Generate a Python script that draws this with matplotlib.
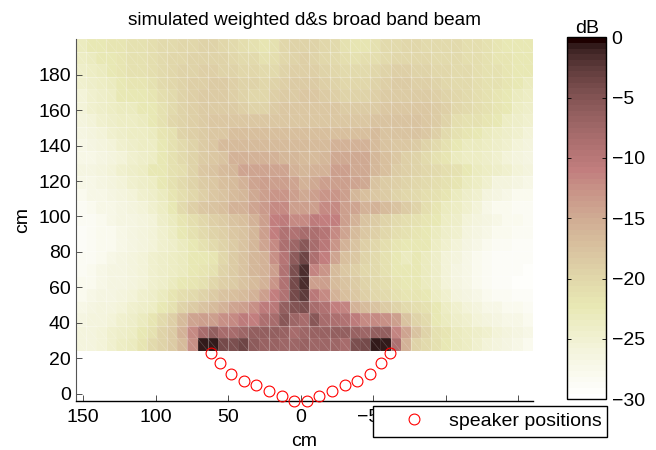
#!/usr/bin/env python
"""Simulated broad band beam map with speaker positions."""

import matplotlib

matplotlib.use("Agg")
import matplotlib.pyplot as plt
import numpy as np
from matplotlib.collections import LineCollection

plt.rcParams["font.family"] = ["Liberation Sans", "DejaVu Sans"]

# beam level in dB, top row first, columns run from +x (left) to -x (right)
db_rows = [
    [-23,-22.5,-22.5,-22,-22,-21.5,-21.5,-21,-20.5,-20.5,-20,-20,-19.5,-19.5,-20,-20.5,-21,-21.5,-22,-21.5,-20,-19.5,-19.5,-19.5,-20,-20.5,-21.5,-22,-22,-21.5,-20.5,-20.5,-20,-20,-20.5,-20.5,-20.5,-20.5,-21,-21,-21.5,-22,-22.5,-22.5,-22.5],
    [-23.5,-23,-22.5,-22.5,-22,-21.5,-21.5,-21,-20.5,-20,-20,-19.5,-19.5,-19.5,-19.5,-20,-20.5,-20.5,-21.5,-21,-20,-19.5,-19,-19.5,-20,-20.5,-21,-21.5,-21,-21,-20.5,-20,-20,-20,-20,-20.5,-20.5,-20.5,-21,-21,-21.5,-22,-22,-22.5,-22.5],
    [-24,-23.5,-23,-22.5,-22,-21.5,-21.5,-21,-20.5,-20,-19.5,-19.5,-19,-19,-19.5,-19.5,-20,-20,-20.5,-20.5,-19.5,-19,-19,-19,-19.5,-20,-20.5,-20.5,-20.5,-20,-19.5,-19,-19,-19.5,-19.5,-20,-20,-20.5,-20.5,-21,-21.5,-21.5,-22,-22.5,-22.5],
    [-24.5,-24,-23.5,-23,-22.5,-22,-22,-21.5,-20.5,-20,-19.5,-19,-19,-18.5,-18.5,-19,-19.5,-19.5,-20,-19.5,-19,-18.5,-18.5,-18.5,-19,-19.5,-20,-20,-20,-19.5,-19,-18.5,-18.5,-19,-19,-19.5,-20,-20.5,-20.5,-21,-21.5,-21.5,-22,-22.5,-23],
    [-25.5,-24.5,-24,-23.5,-22.5,-22.5,-22.5,-22,-21,-20.5,-19.5,-19,-18.5,-18.5,-18.5,-19,-19.5,-20,-20,-19,-18.5,-18.5,-18,-18,-18.5,-19,-19.5,-19.5,-19.5,-19,-18.5,-18.5,-18.5,-18.5,-18.5,-19,-19.5,-20,-20.5,-21,-21.5,-22,-22.5,-23,-23.5],
    [-25.5,-24.5,-24,-23.5,-23,-23,-22.5,-22.5,-21.5,-20.5,-19.5,-19,-18.5,-18.5,-18.5,-18.5,-19,-19.5,-19.5,-18.5,-18,-18,-18,-18,-18,-18,-18.5,-18.5,-18.5,-18.5,-18,-18,-18,-18,-18,-18.5,-19,-20,-20.5,-21,-21.5,-22,-22.5,-23.5,-24],
    [-26,-25.5,-24.5,-24,-23.5,-23.5,-23,-22.5,-21.5,-20,-19.5,-19,-18.5,-18,-18,-18,-18,-18,-18,-18,-18,-18,-18,-18,-18,-18,-18,-18,-18,-17.5,-17.5,-17.5,-17.5,-17.5,-18,-18.5,-19.5,-21,-21.5,-21.5,-22,-22.5,-23.5,-24,-24.5],
    [-26.5,-26,-25.5,-24.5,-24,-23.5,-23.5,-23,-22,-21.5,-19.5,-19,-18.5,-18,-18,-17,-17,-17,-17,-17,-17,-17,-17,-17,-17,-17,-17,-17,-17,-16.5,-17.5,-17.5,-17.5,-17.5,-18,-19,-20.5,-21.5,-22,-22.5,-23,-23.5,-24,-24.5,-25.5],
    [-27,-26.5,-26,-25.5,-24.5,-24,-23.5,-23.5,-22.5,-21.5,-20.5,-19.5,-18.5,-18,-16.5,-16.5,-16.5,-16.5,-16.5,-16.5,-16.5,-16.5,-16.5,-16.5,-16.5,-15.5,-15.5,-15.5,-15.5,-16.5,-17.5,-18,-18,-18.5,-19.5,-20.5,-21.5,-22.5,-23,-23,-23.5,-24,-24.5,-25.5,-26],
    [-27,-27,-26.5,-26,-25.5,-24.5,-24,-23.5,-22.5,-21.5,-20.5,-19.5,-18.5,-18,-17.5,-15.5,-15.5,-15.5,-15.5,-15.5,-16,-16,-16.5,-16.5,-16,-15,-15,-15,-15,-16,-17,-18,-19,-19.5,-20.5,-21.5,-22,-23,-23.5,-23.5,-24,-24.5,-25.5,-26,-26.5],
    [-26.5,-26.5,-26,-25.5,-24.5,-24,-23.5,-22.5,-22.5,-21.5,-21,-19.5,-18,-17.5,-16.5,-16,-14.5,-14.5,-14.5,-14.5,-14.5,-15.5,-16,-15.5,-15.5,-14,-14,-15,-15,-16,-17,-18.5,-19,-19.5,-20,-20.5,-21,-21.5,-22.5,-23,-23.5,-24,-24.5,-25.5,-26],
    [-27,-27,-26.5,-26,-25.5,-24.5,-24,-23.5,-22.5,-21.5,-20.5,-19.5,-18.5,-18,-17,-16.5,-15.5,-14.5,-14,-14,-14,-14.5,-15.5,-15,-14,-14,-14,-14.5,-15,-17.5,-18.5,-19,-19.5,-20,-20.5,-21,-21.5,-22,-23,-23.5,-24.5,-26,-26,-26.5,-27],
    [-28,-27,-27,-26.5,-26,-25.5,-24.5,-24,-23,-22,-21,-20,-19,-18,-17.5,-16.5,-16,-15,-14,-13,-13,-14,-15,-14,-13,-13,-14,-16,-17,-18,-18.5,-19.5,-20,-20.5,-21,-21.5,-22,-23,-24,-24.5,-26,-26.5,-27,-28,-28],
    [-28.5,-28,-27,-27,-26.5,-26,-25.5,-24.5,-23.5,-22.5,-20.5,-19,-18,-17.5,-17,-15.5,-15.5,-14.5,-13.5,-12,-12,-14,-14,-14,-12,-12,-14,-14.5,-15.5,-15.5,-16.5,-17.5,-18.5,-19.5,-21,-22,-23,-23.5,-24.5,-25.5,-27,-28,-28,-28.5,-28.5],
    [-28.5,-28.5,-28,-27,-26.5,-26.5,-26,-25.5,-24,-23,-22,-21,-20,-19,-18.5,-17.5,-17,-15.5,-14,-11,-10.5,-12,-12,-10.5,-11,-11,-14,-15.5,-17.5,-18.5,-19.5,-20.5,-21,-21.5,-22,-22.5,-23.5,-24,-25.5,-26,-26.5,-27,-28,-28,-28.5],
    [-29,-28.5,-28,-28,-27,-26.5,-26,-25.5,-24.5,-23.5,-22.5,-21.5,-20.5,-19.5,-19,-18,-17.5,-16,-14,-11,-9,-9,-8,-8.5,-9.5,-12,-14.5,-16.5,-18,-19,-20,-21,-21.5,-22,-22.5,-23,-24,-24.5,-26,-26.5,-27,-28,-28,-28.5,-28.5],
    [-29,-28.5,-28,-28,-27,-26.5,-26,-25.5,-24.5,-24,-23,-22.5,-21.5,-20.5,-19.5,-18.5,-17.5,-16,-14.5,-12,-8.5,-7.5,-5.5,-8,-10,-13,-15.5,-17.5,-19,-20,-21,-22,-22.5,-22.5,-22.5,-23.5,-24.5,-25.5,-26.5,-27,-28,-28.5,-28.5,-29,-29],
    [-28.5,-28.5,-28,-27,-26.5,-26,-25.5,-24.5,-24,-23.5,-23,-22.5,-22.5,-22,-20,-18.5,-17.5,-16,-15.5,-12.5,-9.5,-6,-3.5,-8.5,-11,-14.5,-17,-18,-19.5,-20.5,-21.5,-22.5,-23,-22.5,-23,-24,-25.5,-26,-27,-28,-28.5,-29,-29,-29,-29],
    [-28.5,-28,-27,-26.5,-26.5,-26,-25.5,-24.5,-24,-23.5,-23,-22.5,-22,-21.5,-19.5,-18.5,-17.5,-16,-15.5,-14,-9,-4.5,-1.5,-11.5,-13,-16.5,-18,-19,-20,-20.5,-21.5,-22.5,-22.5,-22.5,-23,-24,-25.5,-26.5,-27,-28,-28.5,-29,-29,-29,-29.5],
    [-28,-28,-27,-26.5,-26.5,-26,-25.5,-24.5,-24,-23,-22.5,-22,-21.5,-20,-19,-18.5,-17.5,-16.5,-15.5,-13,-9,-4,-1.5,-14,-14,-16.5,-17.5,-18.5,-19.5,-20.5,-21,-22,-22.5,-22.5,-23,-24,-25.5,-26.5,-27,-28,-28.5,-29,-29,-29.5,-29.5],
    [-28,-27,-26.5,-26.5,-26,-25.5,-24.5,-24,-23,-22,-21,-20.5,-19.5,-18.5,-17.5,-17,-16.5,-15.5,-14,-11,-9,-4,-2.5,-10,-12,-15.5,-17,-18,-19,-20,-20.5,-21.5,-22,-22,-22.5,-23.5,-24.5,-26,-26.5,-27,-28,-28.5,-28.5,-29,-29],
    [-27,-26.5,-26,-26,-25.5,-24.5,-24,-23.5,-22.5,-21.5,-19.5,-18.5,-17.5,-16.5,-15.5,-14.5,-14,-12.5,-10.5,-10,-6.5,-5,-4.5,-8,-9,-11,-11.5,-15.5,-16.5,-17.5,-18.5,-19.5,-20.5,-21,-21.5,-22.5,-23.5,-24.5,-25.5,-26,-27,-27,-28,-28,-28.5],
    [-26.5,-26,-26,-25.5,-24.5,-24,-23,-22,-20.5,-19,-16.5,-14.5,-14,-14,-12.5,-12,-10.5,-11,-8.5,-8,-5.5,-7.5,-8,-5.5,-8,-8.5,-9,-10.5,-12,-12,-12.5,-14,-17.5,-19.5,-20.5,-22.5,-23,-24,-24.5,-25.5,-26,-26.5,-27,-27,-28],
    [-26,-26,-25.5,-24.5,-24,-23.5,-22.5,-21.5,-19.5,-18.5,-15.5,-12,-8,-6.5,-8,-8,-7.5,-6.5,-6.5,-6.5,-7,-8,-7.5,-7,-7,-6.5,-6.5,-7,-7.5,-6.5,-6.5,-11.5,-14.5,-17.5,-19.5,-21.5,-22,-23,-23.5,-24,-24.5,-25.5,-26,-26.5,-27],
    [-26,-26,-25.5,-24.5,-23.5,-23,-22,-20.5,-19.5,-18.5,-16.5,-12.5,-0.5,-0.5,-4,-4.5,-3.5,-6,-7,-7,-7.5,-7.5,-7,-7.5,-7.5,-7.5,-8,-4.5,-4,-0.5,-0.5,-8.5,-15.5,-19.5,-20.5,-21.5,-22.5,-23,-23.5,-24.5,-25.5,-26,-26.5,-27,-28],
]

speaker_x = [62.1, 56.0, 48.0, 39.4, 30.5, 21.8, 13.2, 4.5, -4.2, -12.8, -21.5, -30.3, -39.0, -47.6, -55.6, -61.8]
speaker_y = [22.8, 17.0, 11.0, 7.2, 4.9, 1.7, -1.1, -4.3, -4.3, -1.1, 1.7, 4.9, 7.2, 11.0, 17.0, 22.8]

x_ticks = [150, 100, 50, 0, -50, -100, -150]
x_labels = ["150", "100", "50", "0", "\u221250", "", ""]  # the last two sit under the legend
y_ticks = [0, 20, 40, 60, 80, 100, 120, 140, 160, 180]
cbar_ticks = [0, -5, -10, -15, -20, -25, -30]

W, H = 656, 450


def px_axes(x0, x1, y_top, y_bottom):
    return [x0 / W, 1 - y_bottom / H, (x1 - x0) / W, (y_bottom - y_top) / H]


levels = np.array(db_rows)
x_edges = np.linspace(155.2, -160, levels.shape[1] + 1)
y_edges = np.linspace(200, 24.1, levels.shape[0] + 1)

fig = plt.figure(figsize=(W / 100, H / 100), dpi=100)
ax = fig.add_axes(px_axes(75.7, 532.7, 39.3, 401))

cmap = plt.get_cmap("pink_r", 64)
mesh = ax.pcolormesh(x_edges, y_edges, levels, cmap=cmap, vmin=-30, vmax=0, linewidth=0)

# faint seams between the patches, as left behind by the original renderer
faint = dict(colors="white", alpha=0.1, linewidth=0.6, zorder=2)
strong = dict(colors="white", alpha=0.3, linewidth=0.8, zorder=2)
ax.vlines(x_edges[::2], y_edges[-1], y_edges[0], **faint)
ax.vlines(x_edges[1::2], y_edges[-1], y_edges[0], **strong)
ax.hlines(y_edges[::2], x_edges[0], x_edges[-1], **faint)
ax.hlines(y_edges[1::2], x_edges[0], x_edges[-1], **strong)
diag = [[(x_edges[i], y_edges[j]), (x_edges[i + 1], y_edges[j + 1])]
        for i in range(levels.shape[1]) for j in range(levels.shape[0])]
ax.add_collection(LineCollection(diag, colors="white", alpha=0.2, linewidths=0.5, zorder=2))

ax.plot(speaker_x, speaker_y, "o", mfc="none", mec="red", ms=7.8, mew=0.8, ls="none",
        clip_on=False, zorder=4, label="speaker positions")

ax.set_xlim(x_edges[0], x_edges[-1])
ax.set_ylim(-4.2, 200)
ax.set_xticks(x_ticks, x_labels)
ax.set_yticks(y_ticks)
ax.tick_params(direction="in", length=4, width=0.6, labelsize=14, color="#333333")
ax.tick_params(axis="x", pad=6)
ax.spines[["top", "right"]].set_visible(False)
ax.spines["left"].set_color("#555555")
ax.spines["bottom"].set_linewidth(1.0)
ax.set_xlabel("cm", fontsize=14, labelpad=5)
ax.set_ylabel("cm", fontsize=14, labelpad=5)
ax.set_title("simulated weighted d&s broad band beam", fontsize=13.7, pad=10)

leg = ax.legend(loc="lower left", bbox_to_anchor=(373 / W, 1 - 437 / H, 234 / W, 34 / H),
                bbox_transform=fig.transFigure, mode="expand", borderaxespad=0, fontsize=14,
                fancybox=False, framealpha=1, edgecolor="black", handlelength=3.5,
                handletextpad=0.05, numpoints=1, borderpad=0.35)
leg.get_frame().set_linewidth(1.0)
leg.set_zorder(10)

cax = fig.add_axes(px_axes(567.3, 606, 37.3, 399.3))
cbar = fig.colorbar(mesh, cax=cax, ticks=cbar_ticks)
cbar.ax.tick_params(direction="in", length=3, width=0.6, labelsize=14, left=True, right=True, pad=4)
cbar.outline.set_linewidth(1.0)
cax.set_title("dB", fontsize=14, pad=2)

fig.savefig("out.png", dpi=100)
